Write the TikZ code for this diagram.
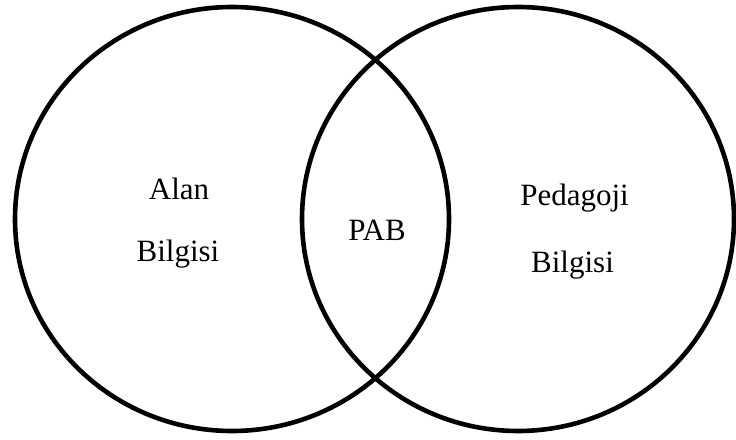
\documentclass[tikz,border=0pt]{standalone}
\usepackage{fontspec}
\setmainfont{Liberation Serif}
\begin{document}
\begin{tikzpicture}[x=1pt,y=-1pt,
  ring/.style={draw=black,line width=4.6pt},
  lbl/.style={anchor=base,inner sep=0pt,font=\fontsize{31}{37}\selectfont}]
\useasboundingbox (0,0) rectangle (736,439);
\fill[white] (0,0) rectangle (736,439);
\draw[ring] (232,219) ellipse [x radius=217pt, y radius=212pt];
\draw[ring] (518,219) ellipse [x radius=216pt, y radius=212pt];
\node[lbl] (alan) at (179,199) {Alan};
\node[lbl] (bilgisiL) at (178,261) {Bilgisi};
\node[lbl] (pab) at (377,240) {PAB};
\node[lbl] (ped) at (574.5,205) {Pedagoji};
\node[lbl] (bilgisiR) at (572.5,272) {Bilgisi};
\end{tikzpicture}
\end{document}
